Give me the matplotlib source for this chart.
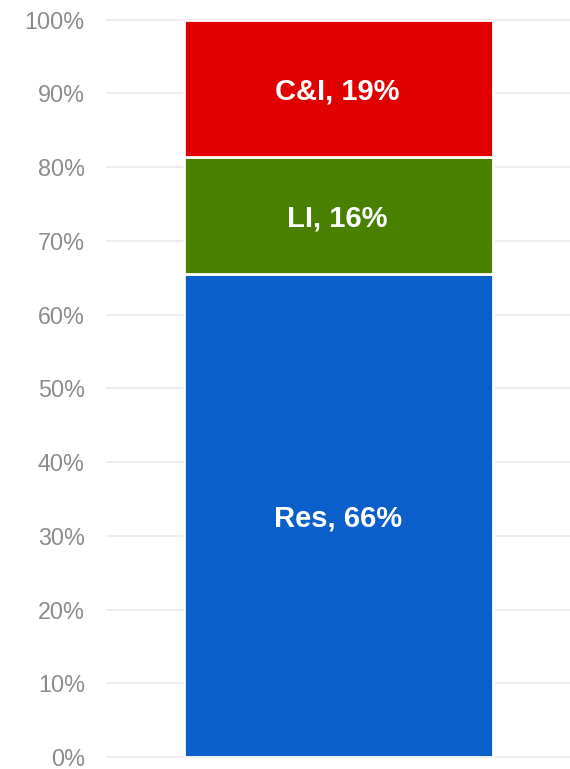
import matplotlib.pyplot as plt
from matplotlib.ticker import FuncFormatter

plt.rcParams['font.family'] = ['Liberation Sans', 'DejaVu Sans']

# segment shares (percent), bottom to top
segments = ['Res', 'LI', 'C&I']
shares = [65.5, 15.9, 18.6]
labels = ['Res, 66%', 'LI, 16%', 'C&I, 19%']
colors = ['#0B5FCA', '#4A8000', '#E00000']
yticks = list(range(0, 101, 10))

fig = plt.figure(figsize=(5.7, 7.69), dpi=100)
ax = fig.add_axes([0.1877, 0.0156, 0.8123, 0.959])

bottom = 0
for lab, val, col in zip(labels, shares, colors):
    ax.bar(0, val, bottom=bottom, width=0.668, color=col,
           edgecolor='white', linewidth=2, zorder=3)
    ax.text(-0.002, bottom + val / 2, lab, color='white',
            fontsize=21, fontweight='bold', ha='center', va='center_baseline', zorder=4)
    bottom += val

ax.set_xlim(-0.5, 0.5)
ax.set_ylim(0, 100)
ax.set_yticks(yticks)
ax.yaxis.set_major_formatter(FuncFormatter(lambda v, p: f"{int(v)}%"))
ax.tick_params(axis='y', length=0, pad=16, labelsize=16.8, labelcolor='#8c8c8c')
for t in ax.get_yticklabels():
    t.set_va('center_baseline')
ax.set_xticks([])
ax.grid(axis='y', color='#eeeeee', linewidth=1.5, zorder=0)
for s in ax.spines.values():
    s.set_visible(False)
for ln in ax.get_ygridlines():
    ln.set_clip_on(False)

fig.savefig('out.png', dpi=100)
